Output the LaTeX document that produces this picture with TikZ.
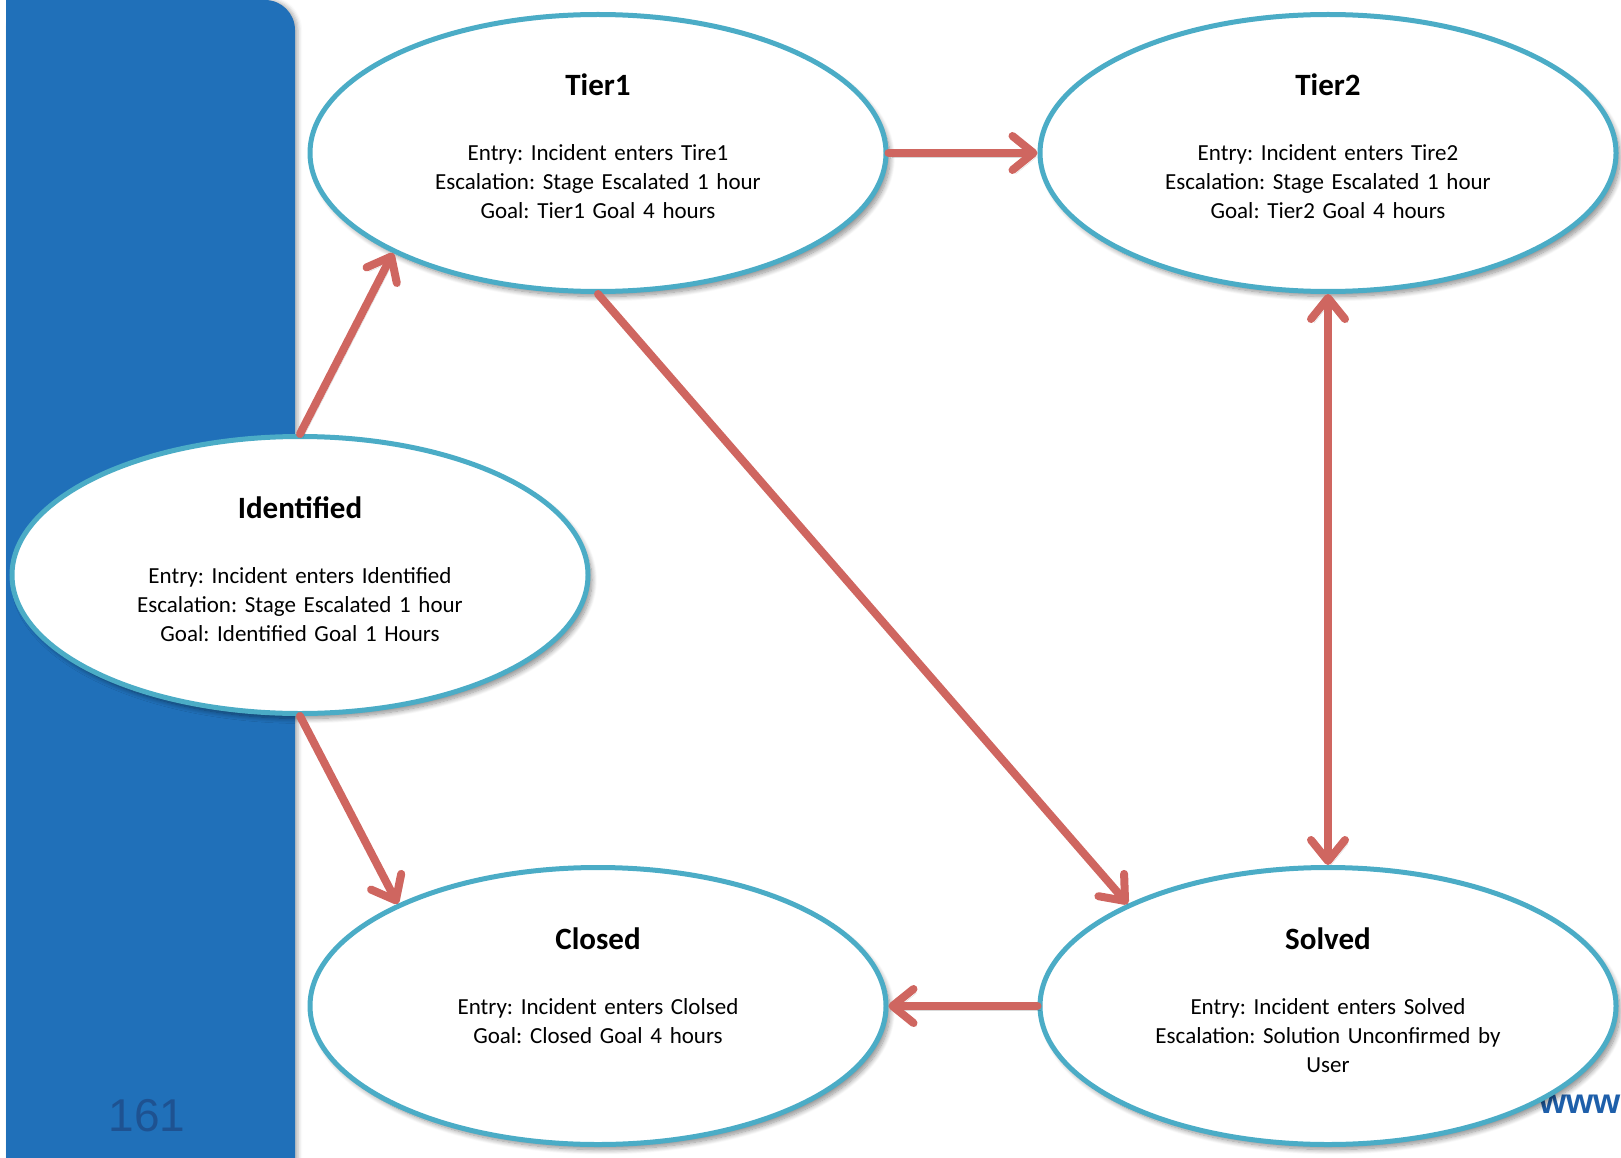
\documentclass[tikz,border=0pt]{standalone}
\usepackage{fontspec}
\setmainfont{Carlito}
\newfontfamily\arialfont{Liberation Sans}
\usetikzlibrary{shapes.geometric,arrows.meta,shadows,shadows.blur}
\frenchspacing
\definecolor{panelblue}{RGB}{32,112,185}
\definecolor{ringcyan}{RGB}{75,172,198}
\definecolor{arrowred}{RGB}{207,102,96}
\definecolor{numblue}{RGB}{30,82,145}
\definecolor{wwwblue}{RGB}{30,95,170}
\tikzset{
  barb/.tip={Straight Barb[length=21pt,width=34pt,round]},
  state/.style={ellipse, draw=ringcyan, line width=5pt, fill=white,
    minimum width=576pt, minimum height=277pt, inner sep=0pt,
    blur shadow={shadow xshift=4pt, shadow yshift=-5pt, shadow blur steps=10,
      shadow blur radius=5pt, shadow opacity=45}},
  statetitle/.style={font=\bfseries\fontsize{31}{37}\selectfont, anchor=base, inner sep=0pt},
  statebody/.style={font=\fontsize{23}{29}\selectfont, align=center, text width=560pt,
    anchor=base, inner sep=0pt},
  link/.style={draw=arrowred, line width=8pt, line cap=round,
    preaction={draw=black, opacity=0.15, transform canvas={shift={(3pt,-4pt)}}}},
}
\begin{document}
\begin{tikzpicture}[x=1pt,y=-1pt]
\useasboundingbox (0,0) rectangle (1621,1158);
% side panel
\fill[panelblue, rounded corners=30pt,
  blur shadow={shadow xshift=3pt, shadow yshift=0pt, shadow blur radius=4pt, shadow opacity=30}] (6,0) rectangle (295,1220);
\fill[panelblue] (6,0) rectangle (100,100);
\node[font=\arialfont\fontsize{46}{50}\selectfont, text=numblue, inner sep=0pt] (pagenum) at (147,1116) {161};
\node[font=\arialfont\bfseries\fontsize{35}{40}\selectfont, text=wwwblue, anchor=base west, inner sep=0pt] (www) at (1539,1113) {www};

% states
\node[state] (tier1) at (598,153) {};
\node[statetitle] (tier1t) at ([yshift=57pt]tier1.center) {Tier1};
\node[statebody] (tier1b) at ([yshift=-8pt]tier1.center) {Entry: Incident enters Tire1\\Escalation: Stage Escalated 1 hour\\Goal: Tier1 Goal 4 hours};

\node[state] (tier2) at (1328,153) {};
\node[statetitle] (tier2t) at ([yshift=57pt]tier2.center) {Tier2};
\node[statebody] (tier2b) at ([yshift=-8pt]tier2.center) {Entry: Incident enters Tire2\\Escalation: Stage Escalated 1 hour\\Goal: Tier2 Goal 4 hours};

\node[state] (ident) at (300,575) {};
\node[statetitle] (identt) at ([yshift=57pt]ident.center) {Identified};
\node[statebody] (identb) at ([yshift=-8pt]ident.center) {Entry: Incident enters Identified\\Escalation: Stage Escalated 1 hour\\Goal: Identified Goal 1 Hours};

\node[state] (closed) at (598,1006) {};
\node[statetitle] (closedt) at ([yshift=57pt]closed.center) {Closed};
\node[statebody] (closedb) at ([yshift=-8pt]closed.center) {Entry: Incident enters Clolsed\\Goal: Closed Goal 4 hours};

\node[state] (solved) at (1328,1006) {};
\node[statetitle] (solvedt) at ([yshift=57pt]solved.center) {Solved};
\node[statebody] (solvedb) at ([yshift=-8pt]solved.center) {Entry: Incident enters Solved\\Escalation: Solution Unconfirmed by\\User};

% transitions
\draw[link, -barb] (ident.north) -- (tier1.206.7);
\draw[link, -barb] (tier1.east) -- (tier2.west);
\draw[link, -barb] (tier1.south) -- (solved.153.7);
\draw[link, barb-barb] (tier2.south) -- (solved.north);
\draw[link, -barb] (ident.south) -- (closed.153.7);
\draw[link, -barb] (solved.west) -- (closed.east);
\end{tikzpicture}
\end{document}
